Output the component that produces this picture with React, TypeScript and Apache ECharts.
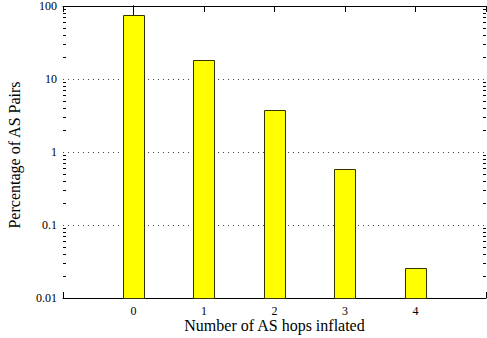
import React, { useEffect, useRef } from "react";
import * as echarts from "echarts";

// Number of AS hops inflated vs. share of AS pairs (log scale)
const hops = [0, 1, 2, 3, 4];
const percentages = [76, 18, 3.76, 0.585, 0.0255];
const yTickLabels = ["0.01", "0.1", "1", "10", "100"];
const minorTickValues = [
  0.02, 0.03, 0.04, 0.05, 0.06, 0.07, 0.08, 0.09,
  0.2, 0.3, 0.4, 0.5, 0.6, 0.7, 0.8, 0.9,
  2, 3, 4, 5, 6, 7, 8, 9,
  20, 30, 40, 50, 60, 70, 80, 90,
];

const FONT = "'Liberation Serif', 'Times New Roman', serif";
const X_MIN = -1;
const X_MAX = 5;
const BAR_HALF = 0.15;

export default function App() {
  const ref = useRef<HTMLDivElement>(null);

  useEffect(() => {
    if (!ref.current) return;
    const chart = echarts.init(ref.current, null, { renderer: "svg" });

    const yLabel = (v: number) => yTickLabels[Math.round(Math.log10(v)) + 2] ?? "";
    const xLabel = (v: number) => (v >= 0 && v <= 4 ? String(v) : "");

    chart.setOption({
      animation: false,
      backgroundColor: "#ffffff",
      grid: {
        left: 63,
        right: 1,
        top: 6,
        bottom: 40,
        containLabel: false,
        outerBoundsMode: "none",
      },
      xAxis: [
        {
          type: "value",
          position: "bottom",
          min: X_MIN,
          max: X_MAX,
          interval: 1,
          name: "Number of AS hops inflated",
          nameLocation: "middle",
          nameGap: 19,
          nameMoveOverlap: false,
          nameTextStyle: { fontFamily: FONT, fontSize: 16, color: "#000" },
          axisLine: { show: true, onZero: false, lineStyle: { color: "#000", width: 1 } },
          axisTick: { show: true, inside: true, length: 6, lineStyle: { color: "#000" } },
          axisLabel: { formatter: xLabel, fontFamily: FONT, fontSize: 12, color: "#000", margin: 7 },
          splitLine: { show: false },
        },
        {
          type: "value",
          position: "top",
          min: X_MIN,
          max: X_MAX,
          interval: 1,
          axisLine: { show: true, onZero: false, lineStyle: { color: "#000", width: 1 } },
          axisTick: { show: true, inside: true, length: 6, lineStyle: { color: "#000" } },
          axisLabel: { show: false },
          splitLine: { show: false },
        },
      ],
      yAxis: [
        {
          type: "log",
          logBase: 10,
          min: 0.01,
          max: 100,
          position: "left",
          name: "Percentage of AS Pairs",
          nameLocation: "middle",
          nameGap: 41,
          nameMoveOverlap: false,
          nameTextStyle: {
            fontFamily: FONT,
            fontSize: 16,
            color: "#000",
            padding: [0, 6, 0, 0],
          },
          axisLine: { show: true, lineStyle: { color: "#000", width: 1 } },
          axisTick: { show: true, inside: true, length: 6, lineStyle: { color: "#000" } },
          axisLabel: { formatter: yLabel, fontFamily: FONT, fontSize: 12, color: "#000", margin: 6 },
          splitLine: { show: true, lineStyle: { color: "#444", width: 1, type: [1, 4] } },
        },
        {
          type: "log",
          logBase: 10,
          min: 0.01,
          max: 100,
          position: "right",
          axisLine: { show: true, lineStyle: { color: "#000", width: 1 } },
          axisTick: { show: true, inside: true, length: 6, lineStyle: { color: "#000" } },
          axisLabel: { show: false },
          splitLine: { show: false },
        },
      ],
      series: [
        {
          type: "custom",
          name: "bars",
          xAxisIndex: 0,
          yAxisIndex: 0,
          z: 3,
          data: hops.map((h, i) => [h, percentages[i]]),
          renderItem: (params: any, api: any) => {
            const x = api.value(0);
            const v = api.value(1);
            const tl = api.coord([x - BAR_HALF, v]);
            const br = api.coord([x + BAR_HALF, 0.01]);
            return {
              type: "rect",
              shape: {
                x: Math.round(tl[0]) + 0.5,
                y: Math.round(tl[1]) + 0.5,
                width: Math.round(br[0] - tl[0]),
                height: Math.round(br[1] - tl[1]),
              },
              style: { fill: "#ffff00", stroke: "#333300", lineWidth: 1 },
            };
          },
        },
        {
          type: "custom",
          name: "minorTicks",
          xAxisIndex: 0,
          yAxisIndex: 0,
          z: 1,
          silent: true,
          data: minorTickValues.map((v) => [X_MIN, v]),
          renderItem: (params: any, api: any) => {
            const v = api.value(1);
            const l = api.coord([X_MIN, v]);
            const r = api.coord([X_MAX, v]);
            const y = Math.round(l[1]) + 0.5;
            return {
              type: "group",
              children: [
                {
                  type: "line",
                  shape: { x1: l[0], y1: y, x2: l[0] + 3, y2: y },
                  style: { stroke: "#000", lineWidth: 1 },
                },
                {
                  type: "line",
                  shape: { x1: r[0], y1: y, x2: r[0] - 3, y2: y },
                  style: { stroke: "#000", lineWidth: 1 },
                },
              ],
            };
          },
        },
      ],
    });

    return () => chart.dispose();
  }, []);

  return (
    <div
      ref={ref}
      style={{ position: "absolute", left: 0, top: 0, width: 487, height: 338 }}
    />
  );
}
